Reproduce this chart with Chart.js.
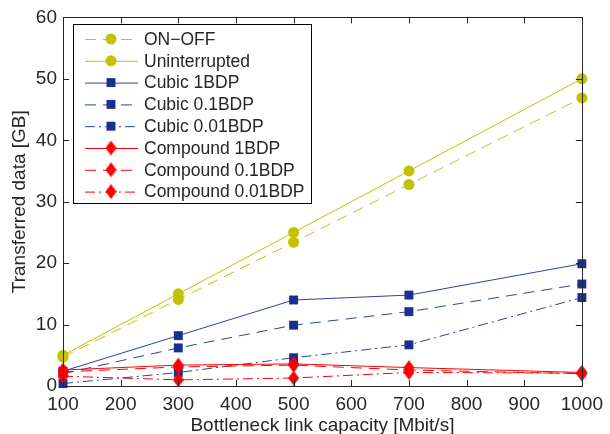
<!DOCTYPE html>
<html>
<head>
<meta charset="utf-8">
<script src="https://cdn.jsdelivr.net/npm/chart.js@4/dist/chart.umd.min.js"></script>
<style>
  html, body { margin: 0; padding: 0; background: #fff; }
  #wrap { width: 610px; height: 434px; }
</style>
</head>
<body>
<div id="wrap"><canvas id="chart"></canvas></div>
<script>
const capacities = [100, 300, 500, 700, 1000];
const onOff = [4.7, 14.1, 23.4, 32.8, 46.9];
const uninterrupted = [5.0, 15.0, 25.0, 35.0, 50.0];
const cubic1 = [2.4, 8.2, 14.0, 14.8, 19.9];
const cubic01 = [2.0, 6.2, 9.9, 12.1, 16.6];
const cubic001 = [0.4, 2.2, 4.6, 6.7, 14.4];
const compound1 = [2.6, 3.4, 3.6, 3.0, 2.2];
const compound01 = [2.3, 3.1, 3.4, 2.6, 2.0];
const compound001 = [1.6, 1.0, 1.3, 2.2, 2.1];
const yTicks = [0, 10, 20, 30, 40, 50, 60];
const xTicks = [100, 200, 300, 400, 500, 600, 700, 800, 900, 1000];

const FONT = "'Liberation Sans', Arial, Helvetica, sans-serif";
const TEXT = "#262626";
const YELLOW = "#c4c100";
const BLUE = "#1a2f8f";
const BLUE_LINE = "#2a44a0";
const RED = "#ff0000";

const DASH = [11, 7];
const DASHDOT = [10, 4, 2, 4];

// tall diamond marker like matlab's 'd'
function diamond(color) {
  const c = document.createElement("canvas");
  c.width = 11; c.height = 15;
  const g = c.getContext("2d");
  g.fillStyle = color;
  g.beginPath();
  g.moveTo(5.5, 0); g.lineTo(11, 7.5); g.lineTo(5.5, 15); g.lineTo(0, 7.5);
  g.closePath();
  g.fill();
  return c;
}
const redDiamond = diamond(RED);

function toPoints(ys) {
  return capacities.map((x, i) => ({ x: x, y: ys[i] }));
}

function series(label, ys, color, lineColor, dash, style, radius) {
  return {
    label: label,
    data: toPoints(ys),
    borderColor: lineColor,
    backgroundColor: color,
    borderWidth: 1,
    borderDash: dash,
    pointStyle: style,
    pointRadius: radius,
    pointBackgroundColor: color,
    pointBorderColor: color,
    pointBorderWidth: 0,
    pointHoverRadius: radius,
    tension: 0,
    clip: false
  };
}

const datasets = [
  series("ON\u2212OFF", onOff, YELLOW, YELLOW, DASH, "circle", 5.5),
  series("Uninterrupted", uninterrupted, YELLOW, YELLOW, [], "circle", 5.5),
  series("Cubic 1BDP", cubic1, BLUE, BLUE_LINE, [], "rect", 6.3),
  series("Cubic 0.1BDP", cubic01, BLUE, BLUE_LINE, DASH, "rect", 6.3),
  series("Cubic 0.01BDP", cubic001, BLUE, BLUE_LINE, DASHDOT, "rect", 6.3),
  series("Compound 1BDP", compound1, RED, RED, [], redDiamond, 7),
  series("Compound 0.1BDP", compound01, RED, RED, DASH, redDiamond, 7),
  series("Compound 0.01BDP", compound001, RED, RED, DASHDOT, redDiamond, 7)
];
// later series on top, like the original plot
datasets.forEach((d, i) => { d.order = datasets.length - i; });

// box around the axes with inward ticks on all four sides
const framePlugin = {
  id: "frame",
  afterDatasetsDraw(chart) {
    const ctx = chart.ctx;
    const a = chart.chartArea;
    const xs = chart.scales.x, ys = chart.scales.y;
    const tl = 6;
    ctx.save();
    ctx.strokeStyle = TEXT;
    ctx.lineWidth = 1;
    ctx.setLineDash([]);
    ctx.beginPath();
    xTicks.forEach(v => {
      const px = Math.round(xs.getPixelForValue(v)) + 0.5;
      ctx.moveTo(px, a.bottom); ctx.lineTo(px, a.bottom - tl);
      ctx.moveTo(px, a.top); ctx.lineTo(px, a.top + tl);
    });
    yTicks.forEach(v => {
      const py = Math.round(ys.getPixelForValue(v)) + 0.5;
      ctx.moveTo(a.left, py); ctx.lineTo(a.left + tl, py);
      ctx.moveTo(a.right, py); ctx.lineTo(a.right - tl, py);
    });
    ctx.stroke();
    ctx.strokeRect(Math.round(a.left) + 0.5, Math.round(a.top) + 0.5,
      Math.round(a.right - a.left), Math.round(a.bottom - a.top));
    ctx.restore();
  }
};

// legend box in the upper left, line sample + marker like matlab
const legendPlugin = {
  id: "boxLegend",
  afterDraw(chart) {
    const ctx = chart.ctx;
    const bx = 73.5, by = 24.5, bw = 238, bh = 179;
    const rowH = 21.8, firstY = 39;
    ctx.save();
    ctx.fillStyle = "#fff";
    ctx.fillRect(bx, by, bw, bh);
    ctx.strokeStyle = "#000";
    ctx.lineWidth = 1;
    ctx.strokeRect(bx, by, bw, bh);
    ctx.font = "17.5px " + FONT;
    ctx.textBaseline = "middle";
    ctx.textAlign = "left";
    chart.data.datasets.forEach((ds, i) => {
      const y = firstY + i * rowH;
      ctx.strokeStyle = ds.borderColor;
      ctx.lineWidth = 1;
      ctx.setLineDash(ds.borderDash);
      ctx.beginPath();
      ctx.moveTo(85, y + 0.5);
      ctx.lineTo(138, y + 0.5);
      ctx.stroke();
      ctx.setLineDash([]);
      ctx.fillStyle = ds.pointBackgroundColor;
      ctx.strokeStyle = ds.pointBorderColor;
      Chart.helpers.drawPoint(ctx, {
        pointStyle: ds.pointStyle,
        radius: ds.pointRadius,
        rotation: 0,
        borderWidth: 0
      }, 111, y);
      ctx.fillStyle = TEXT;
      ctx.fillText(ds.label, 144, y + 1);
    });
    ctx.restore();
  }
};

new Chart(document.getElementById("chart"), {
  type: "line",
  data: { datasets: datasets },
  plugins: [framePlugin, legendPlugin],
  options: {
    responsive: true,
    maintainAspectRatio: false,
    animation: false,
    layout: { padding: { left: 0, right: 22, top: 15, bottom: 0 } },
    plugins: {
      legend: { display: false },
      tooltip: { enabled: false }
    },
    scales: {
      x: {
        type: "linear",
        min: 100,
        max: 1000,
        afterBuildTicks: s => { s.ticks = xTicks.map(v => ({ value: v })); },
        afterFit: s => { s.height = 48; },
        grid: { display: false, drawTicks: false },
        border: { display: false },
        ticks: {
          color: TEXT, padding: 7, maxRotation: 0, autoSkip: false,
          font: { family: FONT, size: 19 },
          callback: v => String(v)
        },
        title: {
          display: true,
          text: "Bottleneck link capacity [Mbit/s]",
          color: TEXT,
          font: { family: FONT, size: 19, lineHeight: 0.9 },
          padding: { top: 0, bottom: 0 }
        }
      },
      y: {
        min: 0,
        max: 60,
        afterBuildTicks: s => { s.ticks = yTicks.map(v => ({ value: v })); },
        afterFit: s => { s.width = 63; },
        grid: { display: false, drawTicks: false },
        border: { display: false },
        ticks: {
          color: TEXT, padding: 6,
          font: { family: FONT, size: 19 },
          callback: v => String(v)
        },
        title: {
          display: true,
          text: "Transferred data [GB]",
          color: TEXT,
          font: { family: FONT, size: 19, lineHeight: 0.9 },
          padding: { top: 11, bottom: 0 }
        }
      }
    }
  }
});
</script>
</body>
</html>
